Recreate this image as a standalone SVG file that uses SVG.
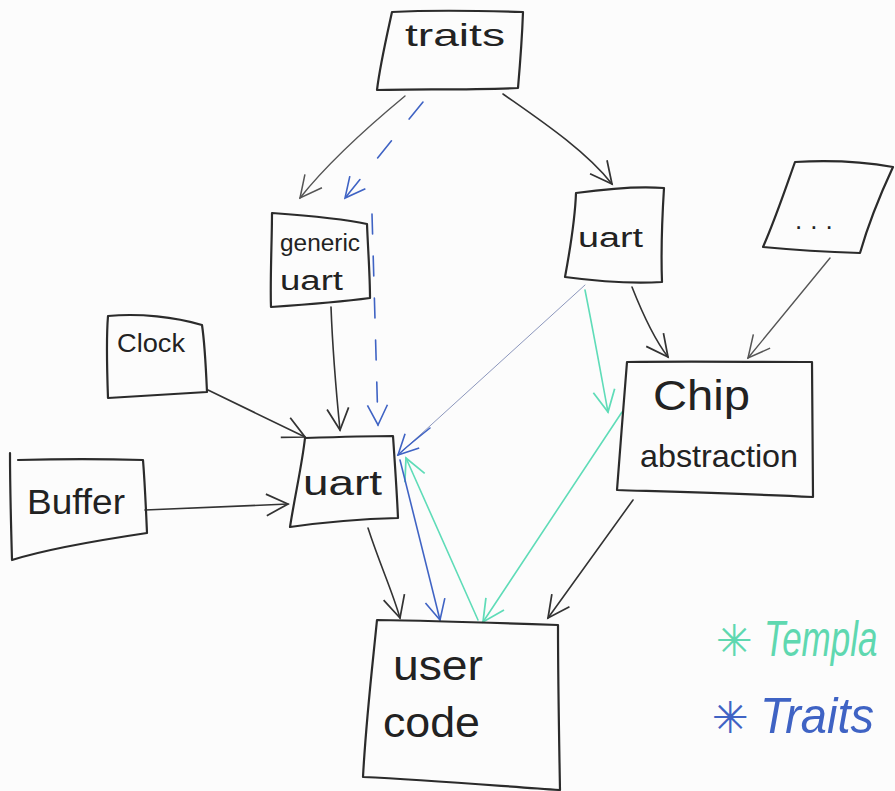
<svg xmlns="http://www.w3.org/2000/svg" width="895" height="791" viewBox="0 0 895 791">
<style>
.box{fill:none;stroke:#2b2b2b;stroke-width:2.2;stroke-linejoin:round;stroke-linecap:round}
.lbl{font-family:"Liberation Sans",Arial,sans-serif;fill:#222}
.c{fill:none;stroke-linecap:round}
.dk{stroke:#333;stroke-width:1.6}
.gy{stroke:#555;stroke-width:1.4}
.bl{stroke:#3f63c4;stroke-width:1.6}
.blt{stroke:#8c97bd;stroke-width:1}
.tl{stroke:#5fdcb8;stroke-width:1.6}
.leg{font-family:"Liberation Sans",Arial,sans-serif;font-style:italic;font-size:50px}
.star{font-family:"DejaVu Sans",sans-serif;font-size:44px}
</style>
<defs>
<marker id="aDk" markerUnits="userSpaceOnUse" viewBox="0 0 24 24" refX="22" refY="12" markerWidth="26" markerHeight="26" orient="auto"><path d="M2,2 L22,12 L2,22" fill="none" stroke="#333" stroke-width="1.6"/></marker>
<marker id="aGy" markerUnits="userSpaceOnUse" viewBox="0 0 24 24" refX="22" refY="12" markerWidth="26" markerHeight="26" orient="auto"><path d="M2,2 L22,12 L2,22" fill="none" stroke="#555" stroke-width="1.4"/></marker>
<marker id="aBl" markerUnits="userSpaceOnUse" viewBox="0 0 24 24" refX="22" refY="12" markerWidth="24" markerHeight="24" orient="auto"><path d="M2,2 L22,12 L2,22" fill="none" stroke="#3f63c4" stroke-width="1.6"/></marker>
<marker id="aTl" markerUnits="userSpaceOnUse" viewBox="0 0 24 24" refX="22" refY="12" markerWidth="26" markerHeight="26" orient="auto"><path d="M2,2 L22,12 L2,22" fill="none" stroke="#5fdcb8" stroke-width="1.6"/></marker>
</defs>
<rect width="895" height="791" fill="#fcfcfc"/>

<g id="connectors">
<path class="c gy" d="M405,96 C370,125 330,160 300,198" marker-end="url(#aGy)"/>
<path class="c dk" d="M503,94 C540,120 585,150 612,184" marker-end="url(#aDk)"/>
<path class="c bl" d="M423,102 L345,198" stroke-dasharray="22,28" marker-end="url(#aBl)"/>
<path class="c bl" d="M372,214 L378,425" stroke-dasharray="20,22" marker-end="url(#aBl)"/>
<path class="c dk" d="M331,307 C333,360 337,400 340,430" marker-end="url(#aDk)"/>
<path class="c dk" d="M208,390 L305,437" marker-end="url(#aDk)"/>
<path class="c dk" d="M145,510 L288,504" marker-end="url(#aDk)"/>
<path class="c blt" d="M585,285 L398,455"/>
<path class="c bl" d="M430,428 C415,440 405,448 398,455" marker-end="url(#aBl)"/>
<path class="c dk" d="M632,287 C645,320 655,340 668,357" marker-end="url(#aDk)"/>
<path class="c gy" d="M830,258 L748,358" marker-end="url(#aGy)"/>
<path class="c tl" d="M585,290 C595,340 602,380 608,412" marker-end="url(#aTl)"/>
<path class="c tl" d="M622,412 L483,622" marker-end="url(#aTl)"/>
<path class="c tl" d="M478,620 L406,458" marker-end="url(#aTl)"/>
<path class="c bl" d="M400,460 L440,620" marker-end="url(#aBl)"/>
<path class="c dk" d="M368,528 C380,565 392,590 400,618" marker-end="url(#aDk)"/>
<path class="c dk" d="M633,500 L548,618" marker-end="url(#aDk)"/>
</g>

<g id="traits">
<path class="box" d="M392,12 C430,10 490,11 523,12 C522,40 520,65 518,88 C470,90 420,89 377,90 C380,65 387,35 392,12 Z"/>
<text class="lbl" x="405" y="46" font-size="32" textLength="100" lengthAdjust="spacingAndGlyphs">traits</text>
</g>

<g id="generic_uart">
<path class="box" d="M272,213 C300,215 340,218 367,224 C368,250 370,275 370,298 C340,302 300,305 271,307 C270,280 272,240 272,213 Z"/>
<text class="lbl" x="280" y="251" font-size="23" textLength="80" lengthAdjust="spacingAndGlyphs">generic</text>
<text class="lbl" x="280" y="290" font-size="27" textLength="63" lengthAdjust="spacingAndGlyphs">uart</text>
</g>

<g id="uart_chip">
<path class="box" d="M576,193 C605,189 640,186 664,188 C662,220 661,255 662,282 C630,284 595,281 565,277 C570,250 575,220 576,193 Z"/>
<text class="lbl" x="578" y="247" font-size="27" textLength="65" lengthAdjust="spacingAndGlyphs">uart</text>
</g>

<g id="more">
<path class="box" d="M795,162 C830,160 865,162 893,167 C880,195 868,225 860,253 C830,252 795,250 763,247 C775,220 785,190 795,162 Z"/>
<text class="lbl" x="795" y="229" font-size="26" letter-spacing="8">...</text>
</g>

<g id="clock">
<path class="box" d="M108,316 C140,313 175,317 202,325 C205,345 206,370 207,392 C175,394 140,396 108,398 C107,370 106,340 108,316 Z"/>
<text class="lbl" x="117" y="352" font-size="25" textLength="68" lengthAdjust="spacingAndGlyphs">Clock</text>
</g>

<g id="chip_abstraction">
<path class="box" d="M627,362 C690,361 750,362 812,362 C812,405 813,450 813,497 C750,494 680,492 617,490 C620,450 624,400 627,362 Z"/>
<text class="lbl" x="653" y="410" font-size="42" textLength="97" lengthAdjust="spacingAndGlyphs">Chip</text>
<text class="lbl" x="640" y="467" font-size="32" textLength="158" lengthAdjust="spacingAndGlyphs">abstraction</text>
</g>

<g id="buffer">
<path class="box" d="M18,460 C60,459 105,459 143,460 C145,485 146,510 147,533 C100,540 50,548 12,560 C11,525 10,490 10,453"/>
<text class="lbl" x="27" y="514" font-size="35" textLength="98" lengthAdjust="spacingAndGlyphs">Buffer</text>
</g>

<g id="uart">
<path class="box" d="M305,438 C335,437 365,436 393,436 C395,465 397,495 398,518 C360,519 325,522 290,527 C295,495 302,465 305,438 Z"/>
<text class="lbl" x="303" y="495" font-size="35" textLength="79" lengthAdjust="spacingAndGlyphs">uart</text>
</g>

<g id="user_code">
<path class="box" d="M377,620 C440,621 500,623 558,625 C558,680 559,735 560,790 C500,786 430,780 363,777 C366,720 372,670 377,620 Z"/>
<text class="lbl" x="393" y="680" font-size="42" textLength="90" lengthAdjust="spacingAndGlyphs">user</text>
<text class="lbl" x="383" y="737" font-size="42" textLength="97" lengthAdjust="spacingAndGlyphs">code</text>
</g>

<g id="legend">
<text class="star" x="716" y="656" fill="#5fd8b0">✳</text>
<text class="leg" transform="translate(764,656) scale(0.7,1)" fill="#5fd8b0">Templa</text>
<text class="star" x="712" y="733" fill="#3f63c4">✳</text>
<text class="leg" transform="translate(760,733) scale(0.94,1)" fill="#3f63c4">Traits</text>
</g>
</svg>
